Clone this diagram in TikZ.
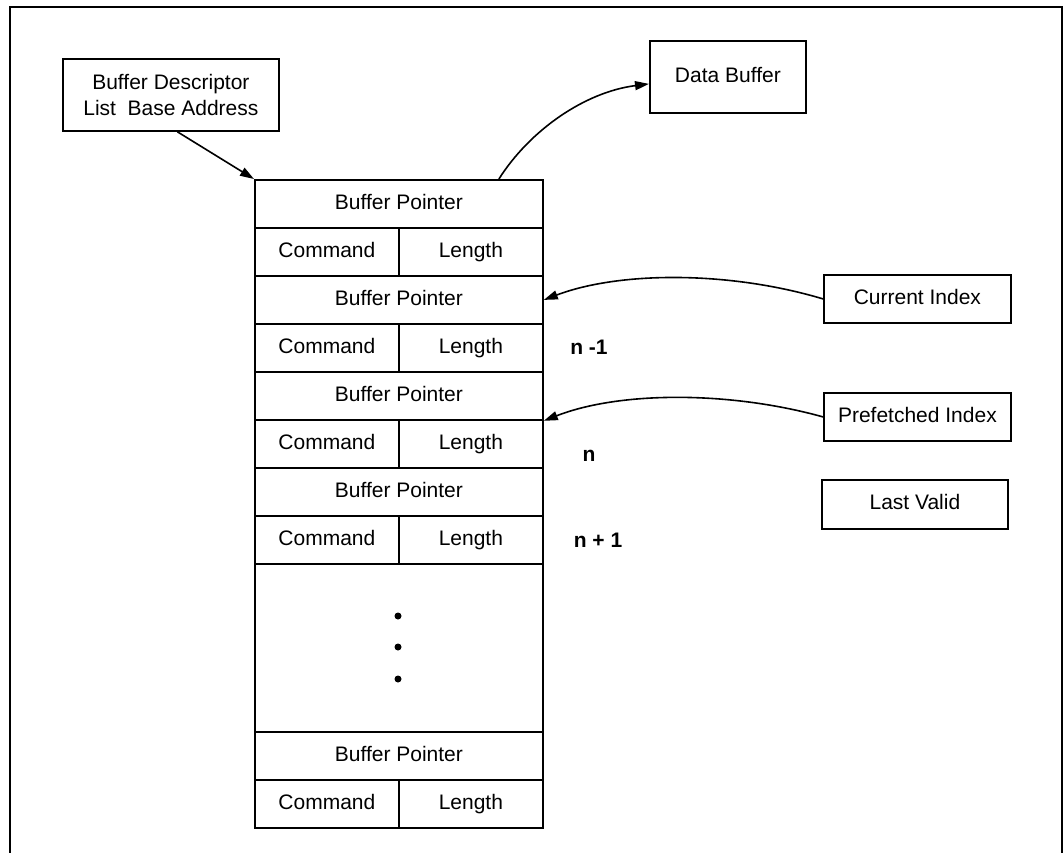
\documentclass[tikz,border=0pt]{standalone}
\usepackage{fontspec}
\setmainfont{Liberation Sans}
\usetikzlibrary{arrows.meta,calc}
\begin{document}
\begin{tikzpicture}[x=1pt,y=-1pt,
  every node/.style={font=\fontsize{21}{26}\selectfont},
  box/.style={draw, line width=1.8pt, rectangle, inner sep=0pt, align=center},
  oneline/.style={box, text height=15pt, text depth=4pt},
  cell/.style={oneline, minimum height=48pt, anchor=north west},
  wide/.style={cell, minimum width=288pt},
  half/.style={cell, minimum width=144pt},
  idx/.style={font=\fontsize{21}{26}\selectfont\bfseries},
  link/.style={line width=1.6pt, -{Triangle[length=14pt,width=9pt]}},
  dot/.style={circle, fill, inner sep=0pt, minimum size=7pt}]
\useasboundingbox (0,0) rectangle (1063,852);
% outer frame, open at the bottom
\draw[line width=2.5pt] (10,880) -- (10,7) -- (1062,7) -- (1062,880);

% stand-alone boxes
\node[box, minimum width=216pt, minimum height=72pt, anchor=north west] (bd) at (62,58)
  {Buffer Descriptor\\List\ \ Base Address};
\node[oneline, minimum width=156pt, minimum height=72pt, anchor=north west] (db) at (649,40) {Data Buffer};
\node[oneline, minimum width=187pt, minimum height=48pt, anchor=north west] (ci) at (823,274) {Current Index};
\node[oneline, minimum width=187pt, minimum height=48pt, anchor=north west] (pi) at (823,392) {Prefetched Index};
\node[oneline, minimum width=186pt, minimum height=49pt, anchor=north west] (lv) at (821,479) {Last Valid};

% descriptor list
\node[wide] (bp1) at (254,179) {Buffer Pointer};
\node[half] (cm1) at (254,227) {Command};
\node[half] (ln1) at (398,227) {Length};
\node[wide] (bp2) at (254,275) {Buffer Pointer};
\node[half] (cm2) at (254,323) {Command};
\node[half] (ln2) at (398,323) {Length};
\node[wide] (bp3) at (254,371) {Buffer Pointer};
\node[half] (cm3) at (254,419) {Command};
\node[half] (ln3) at (398,419) {Length};
\node[wide] (bp4) at (254,467) {Buffer Pointer};
\node[half] (cm4) at (254,515) {Command};
\node[half] (ln4) at (398,515) {Length};
\node[wide, minimum height=168pt] (gap) at (254,563) {};
\node[dot] (d1) at (398,616) {};
\node[dot] (d2) at (398,647) {};
\node[dot] (d3) at (398,679) {};
\node[wide] (bp5) at (254,731) {Buffer Pointer};
\node[half] (cm5) at (254,779) {Command};
\node[half] (ln5) at (398,779) {Length};

% index labels
\node[idx] (nm1) at (589,347) {n -1};
\node[idx] (n0) at (589,456) {n};
\node[idx] (np1) at (598,540) {n + 1};

% connectors
\draw[link] (bd.-80) -- (bp1.north west);
\draw[link] ($(bp1.north)+(100,0)$) .. controls (530,130) and (585,92) .. ($(db.west)+(0,7)$);
\draw[link] (ci.west) .. controls (730,271) and (620,271) .. (bp2.east);
\draw[link] (pi.west) .. controls (730,391) and (620,391) .. (bp3.south east);
\end{tikzpicture}
\end{document}
